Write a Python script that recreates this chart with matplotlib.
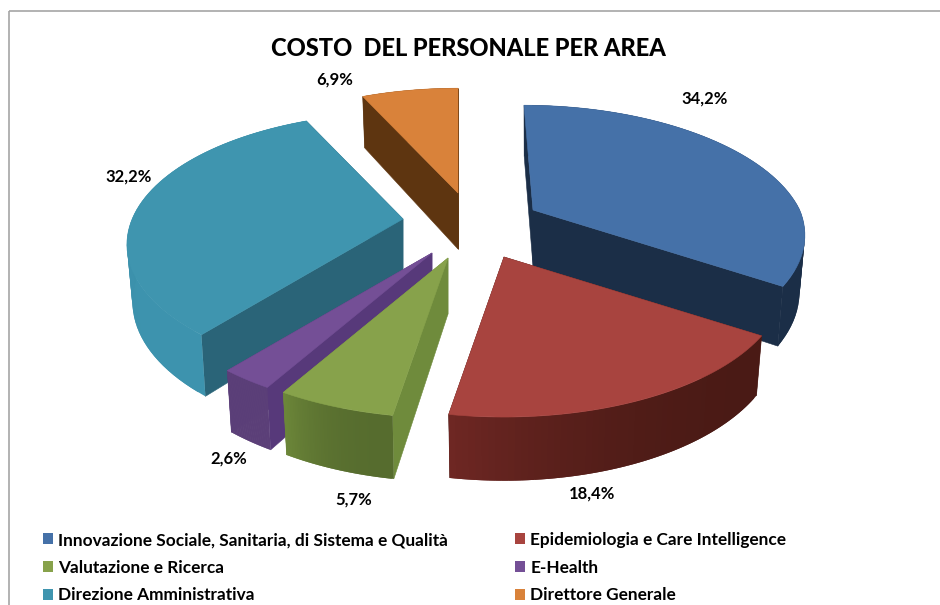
import numpy as np
import matplotlib
matplotlib.use("Agg")
import matplotlib.pyplot as plt
from matplotlib.patches import Polygon, Rectangle
from matplotlib.colors import to_rgb

# ---- data ----
categories = ["Innovazione Sociale, Sanitaria, di Sistema e Qualità",
              "Epidemiologia e Care Intelligence",
              "Valutazione e Ricerca",
              "E-Health",
              "Direzione Amministrativa",
              "Direttore Generale"]
values = [34.2, 18.4, 5.7, 2.6, 32.2, 6.9]
title = "COSTO  DEL PERSONALE PER AREA"

# ---- styles ----
top_colors = ["#4571A8", "#A8443F", "#87A24B", "#744F96", "#3F95AF", "#D9823A"]
cut_colors = ["#1B2E47", "#4A1A15", "#6F8B3C", "#57397A", "#2A6478", "#5E3510"]
wall_start = ["#1B2E47", "#4A1A15", "#566C2E", "#5B3F78", "#3D93AE", "#5E3510"]
wall_end = ["#1B2E47", "#6E2723", "#6C8639", "#5B3F78", "#2F7F97", "#5E3510"]

# ---- layout of the exploded 3D pie (pixels) ----
CENTER = (470, 222)
EXPLODE_X = [63, 34, -22, -38, -67, -12]
EXPLODE_Y = [-12, 35, 36, 31, -3, -29]
RADIUS = [0.97, 1.0, 1.0, 1.0, 0.985, 0.97]
LEAN = [-9, 0, 0, 0, 0, 0]
RX, RY, PERSP = 275, 129, 0.194
BOTTOM_SX, BOTTOM_SY, DEPTH = 0.98, 1.048, 56
LABEL_XY = [(705, 99), (592, 494), (354, 500), (229, 459), (129, 177), (335, 80)]

fig = plt.figure(figsize=(9.4, 6.05), dpi=100)
ax = fig.add_axes([0, 0, 1, 1])
ax.set_xlim(0, 940)
ax.set_ylim(605, 0)
ax.axis("off")

ax.add_patch(Rectangle((8.5, 11), 1000, 700, fill=False, ec="#A6A6A6", lw=1.2))


def rim(a, r, lean):
    z = np.cos(a)
    s = r / (1 + PERSP * z)
    return RX * s * np.sin(a) + lean * np.maximum(z, 0), -RY * s * z


def poly(xs, ys, color, z, lw=0.4):
    ax.add_patch(Polygon(np.column_stack([xs, ys]), closed=True, fc=color, ec=color, lw=lw, zorder=z))


total = sum(values)
edges = np.concatenate([[0], np.cumsum(values)]) / total * 2 * np.pi
draw_order = [5, 0, 4, 1, 3, 2]

for z, i in enumerate(draw_order):
    cx, cy = CENTER[0] + EXPLODE_X[i], CENTER[1] + EXPLODE_Y[i]
    angles = np.linspace(edges[i], edges[i + 1], 60)
    x, y = rim(angles, RADIUS[i], LEAN[i])
    bx, by = BOTTOM_SX * x, BOTTOM_SY * y + DEPTH
    # radial cut walls
    for k in (0, -1):
        poly([cx, cx + x[k], cx + bx[k], cx],
             [cy, cy + y[k], cy + by[k], cy + DEPTH], cut_colors[i], z)
    # outer wall with its shading, overlapping strips so no seams show
    c0, c1 = np.array(to_rgb(wall_start[i])), np.array(to_rgb(wall_end[i]))
    for j in range(len(angles) - 1):
        t = (j / (len(angles) - 2)) ** 2.5
        col = tuple(c0 * (1 - t) + c1 * t)
        j2 = min(j + 2, len(angles) - 1)
        poly(cx + np.array([x[j], x[j2], bx[j2], bx[j]]),
             cy + np.array([y[j], y[j2], by[j2], by[j]]), col, z, lw=0)
    # top surface
    poly(np.r_[cx, cx + x], np.r_[cy, cy + y], top_colors[i], z)

FONT = "Lato"
ax.text(468, 49, title, ha="center", va="center", fontsize=17, fontweight="black",
        family=FONT, color="black", zorder=20)

for v, (lx, ly) in zip(values, LABEL_XY):
    ax.text(lx, ly, f"{v:.1f}%".replace(".", ","), ha="center", va="center", fontsize=12,
            fontweight="bold", family=FONT, color="black", zorder=20)

order = [0, 2, 4, 1, 3, 5]
handles = [Rectangle((0, 0), 1, 1, fc=top_colors[i], ec="none") for i in order]
leg = ax.legend(handles, [categories[i] for i in order], ncol=2, frameon=False,
                loc="upper left", bbox_to_anchor=(43 / 940, 1 - 532 / 605),
                prop={"family": FONT, "weight": "bold", "size": 12.4},
                handlelength=0.6, handleheight=0.6, handletextpad=0.3,
                columnspacing=3.85, labelspacing=0.68, borderpad=0, borderaxespad=0)
fig.savefig("out.png", dpi=100, facecolor="white")
